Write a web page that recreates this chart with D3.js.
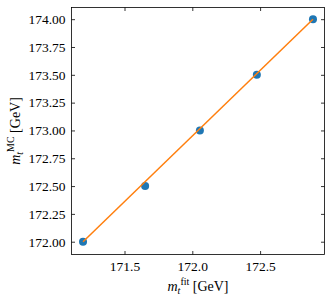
<!DOCTYPE html>
<html>
<head>
<meta charset="utf-8">
<script src="https://cdn.jsdelivr.net/npm/d3@7"></script>
<style>
  body { margin: 0; background: #fff; }
  text { font-family: "Liberation Serif", "DejaVu Serif", serif; }
</style>
</head>
<body>
<div id="chart"></div>
<script>
// fitted top mass vs generated (MC) top mass
var mFit = [171.194, 171.652, 172.056, 172.476, 172.89];
var mMC = [172.0, 172.5, 173.0, 173.5, 174.0];
var xTicks = [171.5, 172.0, 172.5];
var yTicks = [172.0, 172.25, 172.5, 172.75, 173.0, 173.25, 173.5, 173.75, 174.0];

var width = 333, height = 301,
  margin = { top: 7.5, right: 8.5, bottom: 46.5, left: 71.5 };
var w = width - margin.left - margin.right,
  h = height - margin.top - margin.bottom;

var x = d3.scaleLinear().domain([171.109, 172.975]).range([0, w]);
var y = d3.scaleLinear().domain([171.885, 174.105]).range([h, 0]);

var svg = d3.select("#chart").append("svg")
  .attr("width", width).attr("height", height);
var g = svg.append("g")
  .attr("transform", "translate(" + margin.left + "," + margin.top + ")");

var tickLen = 3.5;
function styleAxis(sel) {
  sel.select(".domain").remove();
  sel.selectAll("line").attr("stroke", "#000").attr("stroke-width", 0.8);
  sel.selectAll("text").attr("font-size", 13.5).attr("fill", "#000");
}

g.append("g").attr("transform", "translate(0," + h + ")")
  .call(d3.axisBottom(x).tickValues(xTicks).tickFormat(d3.format(".1f"))
    .tickSizeInner(-tickLen).tickPadding(7))
  .call(styleAxis);
g.append("g")
  .call(d3.axisTop(x).tickValues(xTicks).tickFormat("").tickSizeInner(-tickLen))
  .call(styleAxis);
g.append("g")
  .call(d3.axisLeft(y).tickValues(yTicks).tickFormat(d3.format(".2f"))
    .tickSizeInner(-tickLen).tickPadding(6))
  .call(styleAxis);
g.append("g").attr("transform", "translate(" + w + ",0)")
  .call(d3.axisRight(y).tickValues(yTicks).tickFormat("").tickSizeInner(-tickLen))
  .call(styleAxis);

g.append("rect")
  .attr("width", w).attr("height", h)
  .attr("fill", "none").attr("stroke", "#000").attr("stroke-width", 0.8);

var pts = mFit.map(function(d, i) { return { fit: d, mc: mMC[i] }; });

g.selectAll("circle.pt").data(pts).enter()
  .append("circle").attr("class", "pt")
  .attr("cx", function(d) { return x(d.fit); })
  .attr("cy", function(d) { return y(d.mc); })
  .attr("r", 4)
  .attr("fill", "#1f77b4");

var line = d3.line()
  .x(function(d) { return x(d.fit); })
  .y(function(d) { return y(d.mc); });

g.append("path")
  .datum([pts[0], pts[pts.length - 1]])
  .attr("d", line)
  .attr("fill", "none")
  .attr("stroke", "#ff7f0e")
  .attr("stroke-width", 1.5);

// axis labels
var xl = svg.append("text")
  .attr("x", margin.left + w / 2).attr("y", 291)
  .attr("text-anchor", "middle").attr("font-size", 14);
xl.append("tspan").attr("font-style", "italic").text("m");
xl.append("tspan").attr("font-style", "italic").attr("font-size", 10).attr("dy", 3).text("t");
xl.append("tspan").attr("font-size", 10).attr("dy", -9).text("fit");
xl.append("tspan").attr("dy", 6).text("  [GeV]");

var yl = svg.append("text")
  .attr("transform", "translate(20," + (margin.top + h / 2) + ") rotate(-90)")
  .attr("text-anchor", "middle").attr("font-size", 14);
yl.append("tspan").attr("font-style", "italic").text("m");
yl.append("tspan").attr("font-style", "italic").attr("font-size", 10).attr("dy", 3).text("t");
yl.append("tspan").attr("font-size", 10).attr("dy", -9).text("MC");
yl.append("tspan").attr("dy", 6).text("  [GeV]");
</script>
</body>
</html>
